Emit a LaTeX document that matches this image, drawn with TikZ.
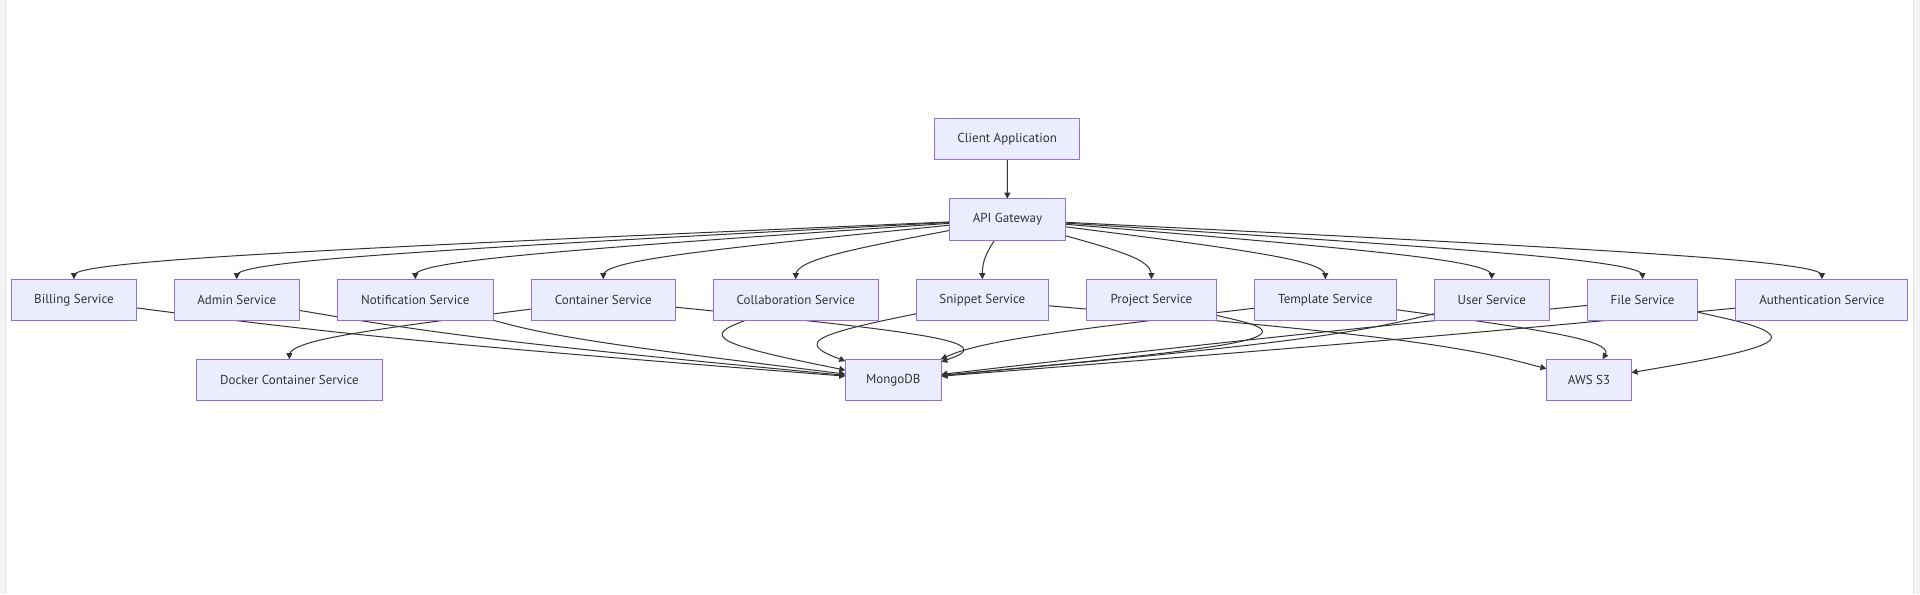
\documentclass[tikz,border=0pt]{standalone}
\usepackage{fontspec}
\setmainfont{PT Sans}
\usetikzlibrary{arrows.meta,calc,backgrounds}
\definecolor{nodefill}{HTML}{ECECFF}
\definecolor{nodeline}{HTML}{9370DB}
\definecolor{linec}{HTML}{333333}
\definecolor{txt}{HTML}{333333}
\definecolor{sidegray}{HTML}{F4F4F4}
\definecolor{sideline}{HTML}{E2E2E2}
\newcommand\bsedge[3]{%
  \path (#1) -- (#2) coordinate[pos=0] (ea);
  \path (#2) -- (#3) coordinate[pos=1] (eb);
  \draw[conn] (ea) -- ($(ea)!0.16667!(#2)$)
    .. controls ($(ea)!0.33333!(#2)$) and ($(ea)!0.66667!(#2)$) ..
    ($0.16667*(ea)+0.66667*(#2)+0.16667*(eb)$)
    .. controls ($(#2)!0.33333!(eb)$) and ($(#2)!0.66667!(eb)$) ..
    ($(#2)!0.83333!(eb)$) -- (eb);
}
\begin{document}
\begin{tikzpicture}[x=1pt,y=-1pt,
  box/.style={draw=nodeline, fill=nodefill, line width=1pt, inner sep=0pt,
    outer sep=0pt, minimum height=41.5pt, text=txt,
    font=\fontsize{13}{15}\selectfont},
  conn/.style={draw=linec, line width=1pt, -{Triangle[length=6pt,width=6pt]}}]
\begin{scope}[on background layer]
  \fill[white] (0,0) rectangle (1920,594);
  \fill[sidegray] (0,0) rectangle (5.5,594);
  \draw[sideline, line width=0.8pt] (5.5,0) -- (5.5,594);
  \fill[sidegray] (1913,0) rectangle (1920,594);
  \draw[sideline, line width=0.8pt] (1913,0) -- (1913,594);
\end{scope}
\useasboundingbox (0,0) rectangle (1920,594);

% top
\node[box, minimum width=145pt] (client) at (1007.2,138.5) {Client Application};
\node[box, minimum width=116pt] (api) at (1007.4,219) {API Gateway};

% services row
\node[box, minimum width=124.5pt] (billing) at (74,299.5) {Billing Service};
\node[box, minimum width=125pt] (admin) at (236.8,299.5) {Admin Service};
\node[box, minimum width=155.4pt] (notif) at (415.3,299.5) {Notification Service};
\node[box, minimum width=144.5pt] (container) at (603.3,299.5) {Container Service};
\node[box, minimum width=164.5pt] (collab) at (795.8,299.5) {Collaboration Service};
\node[box, minimum width=132pt] (snippet) at (982.3,299.5) {Snippet Service};
\node[box, minimum width=130pt] (project) at (1151.4,299.5) {Project Service};
\node[box, minimum width=142pt] (template) at (1325.3,299.5) {Template Service};
\node[box, minimum width=114.7pt] (user) at (1491.7,299.5) {User Service};
\node[box, minimum width=110.3pt] (file) at (1642.5,299.5) {File Service};
\node[box, minimum width=172pt] (auth) at (1821.9,299.5) {Authentication Service};

% bottom row
\node[box, minimum width=186pt] (docker) at (289.4,379.5) {Docker Container Service};
\node[box, minimum width=96pt] (mongo) at (893.3,379.5) {MongoDB};
\node[box, minimum width=85pt] (aws) at (1589,379.5) {AWS S3};

\begin{scope}[on background layer]
  \draw[conn] (client) -- (api);
  % gateway to services
  \bsedge{api}{74,259.5}{billing}
  \bsedge{api}{236.8,259.5}{admin}
  \bsedge{api}{415.3,259.5}{notif}
  \bsedge{api}{603.3,259.5}{container}
  \bsedge{api}{795.8,259.5}{collab}
  \bsedge{api}{982.3,259.5}{snippet}
  \bsedge{api}{1151.4,259.5}{project}
  \bsedge{api}{1325.3,259.5}{template}
  \bsedge{api}{1491.7,259.5}{user}
  \bsedge{api}{1642.5,259.5}{file}
  \bsedge{api}{1821.9,259.5}{auth}
  % services to stores
  \bsedge{billing}{385,339.5}{mongo}
  \bsedge{admin}{475,339.5}{mongo}
  \bsedge{notif}{568,339.5}{mongo}
  \bsedge{container}{289.4,339.5}{docker}
  \bsedge{container}{1000,339.5}{mongo}
  \bsedge{collab}{697,339.5}{mongo}
  \bsedge{snippet}{791,339.5}{mongo}
  \bsedge{snippet}{1437,339.5}{aws}
  \bsedge{project}{1320,339.5}{mongo}
  \bsedge{template}{985,339.5}{mongo}
  \bsedge{template}{1615,339.5}{aws}
  \bsedge{user}{1325,339.5}{mongo}
  \bsedge{file}{1241,339.5}{mongo}
  \bsedge{file}{1822,339.5}{aws}
  \bsedge{auth}{1403,339.5}{mongo}
\end{scope}
\end{tikzpicture}
\end{document}
